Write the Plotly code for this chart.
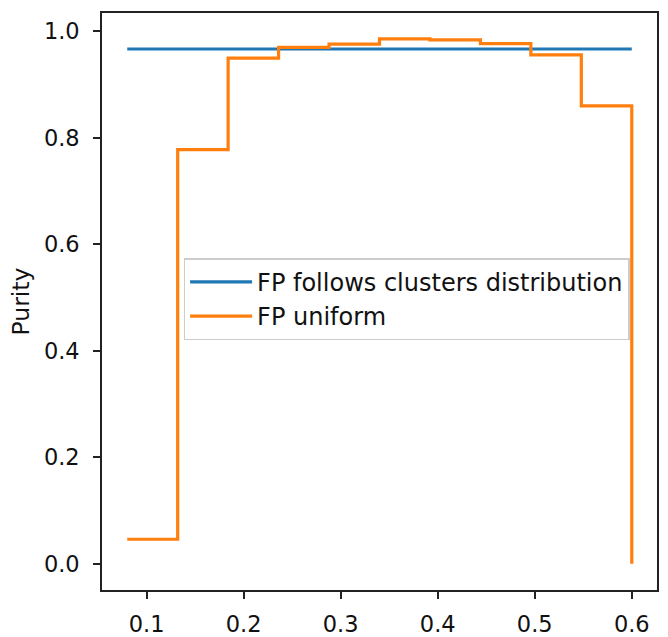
import plotly.graph_objects as go

# Bin edges of the score threshold and the purity in each bin
thresholds = [0.08, 0.132, 0.184, 0.236, 0.288, 0.34, 0.392, 0.444, 0.496, 0.548, 0.6]
purity_uniform = [0.046, 0.778, 0.950, 0.970, 0.976, 0.986, 0.984, 0.977, 0.956, 0.860, 0.0]
purity_clusters = [0.967] * len(thresholds)

x_ticks = [0.1, 0.2, 0.3, 0.4, 0.5, 0.6]
y_ticks = [0.0, 0.2, 0.4, 0.6, 0.8, 1.0]

font = "DejaVu Sans"
fig = go.Figure()
fig.add_trace(go.Scatter(
    x=thresholds, y=purity_clusters, mode="lines",
    name="FP follows clusters distribution",
    line=dict(color="#1f77b4", width=3.2),
))
fig.add_trace(go.Scatter(
    x=thresholds, y=purity_uniform, mode="lines",
    name="FP uniform",
    line=dict(color="#ff7f0e", width=3.2, shape="hv"),
))

axis_common = dict(
    showline=True, mirror=True, linecolor="#222", linewidth=1.6,
    ticks="outside", ticklen=7, tickwidth=1.6, tickcolor="#222",
    showgrid=False, zeroline=False, automargin=False,
    tickfont=dict(family=font, size=22.5, color="#111"),
)
fig.update_layout(
    width=668, height=637,
    margin=dict(l=102, r=11, t=13, b=47),
    plot_bgcolor="white", paper_bgcolor="white",
    xaxis=dict(range=[0.054, 0.626], tickvals=x_ticks,
               ticktext=[f"{v:.1f}" for v in x_ticks], **axis_common),
    yaxis=dict(range=[-0.0493, 1.0346], tickvals=y_ticks,
               ticktext=[f"{v:.1f}" for v in y_ticks],
               title=dict(text="Purity", font=dict(family=font, size=23.5, color="#111"), standoff=8),
               **axis_common),
    legend=dict(
        x=0.147, y=0.575, xanchor="left", yanchor="top",
        bgcolor="rgba(255,255,255,0.8)", bordercolor="#cccccc", borderwidth=1.5,
        font=dict(family=font, size=24, color="#111"),
        tracegroupgap=0, itemwidth=62,
    ),
)
fig.update_xaxes(ticklabelstandoff=6)
fig.update_yaxes(ticklabelstandoff=9)
fig.write_html("out.html")
